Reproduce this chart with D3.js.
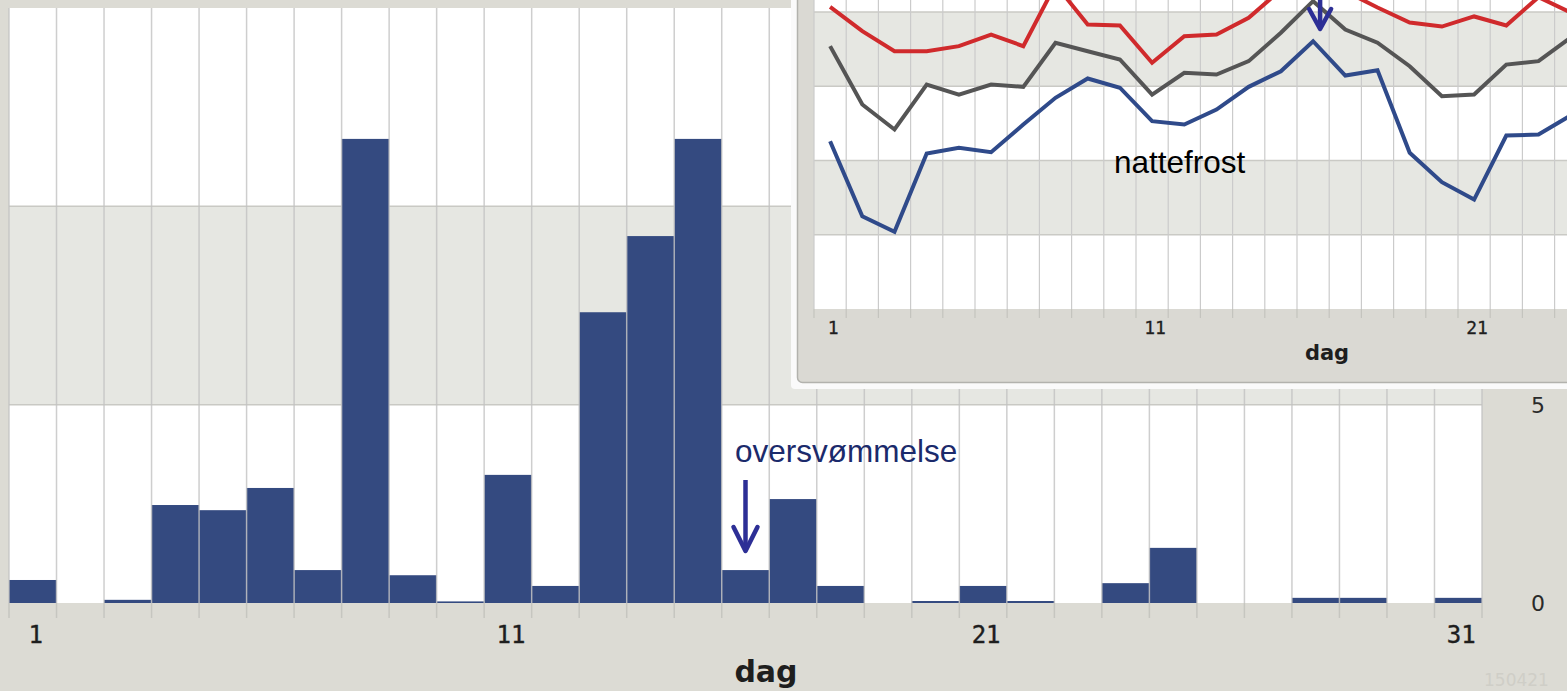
<!DOCTYPE html>
<html>
<head>
<meta charset="utf-8">
<script src="https://cdn.jsdelivr.net/npm/d3@7"></script>
<style>
  html, body { margin: 0; padding: 0; background: #dcdbd4; overflow: hidden; }
  svg { display: block; }
</style>
</head>
<body>
<script>
// ---------- DATA ----------
const days = d3.range(1, 32);                       // 1..31
const precipitation = [0.58, 0, 0.08, 2.47, 2.34, 2.9, 0.83, 11.7, 0.7, 0.04,
                       3.23, 0.43, 7.33, 9.25, 11.7, 0.83, 2.62, 0.43, 0, 0.05,
                       0.43, 0.05, 0, 0.5, 1.39, 0, 0, 0.13, 0.13, 0, 0.13];
const mainXTicks = [1, 11, 21, 31];
const mainYTicks = [0, 5];          // 10 and 15 lie behind the inset

// inset temperature lines (days 1..24 visible)
const insetDays = d3.range(1, 25);
const tempMax  = [10.35, 8.71, 7.36, 7.36, 7.70, 8.48, 7.70, 11.85, 9.16, 9.09,
                  6.58, 8.37, 8.48, 9.61, 11.5, 12.2, 11.4, 10.3, 9.29, 9.02,
                  9.70, 9.09, 11.0, 9.97];
const tempMean = [7.70, 3.77, 2.09, 5.12, 4.44, 5.12, 4.96, 7.93, 7.36, 6.80,
                  4.44, 5.91, 5.79, 6.69, 8.60, 10.73, 8.82, 7.93, 6.35, 4.33,
                  4.44, 6.46, 6.69, 8.28];
const tempMin  = [1.30, -3.75, -4.80, 0.47, 0.86, 0.56, 2.42, 4.22, 5.52, 4.90,
                  2.65, 2.42, 3.43, 4.96, 6.01, 8.03, 5.72, 6.08, 0.52, -1.46,
                  -2.63, 1.68, 1.75, 3.03];
const insetXTicks = [1, 11, 21];
const insetBands = [[-10, -5], [-5, 0], [0, 5], [5, 10], [10, 15]];
const mainBands = [[0, 5], [5, 10], [10, 15]];

// ---------- SETUP ----------
const W = 1567, H = 691;
const svg = d3.select("body").append("svg").attr("width", W).attr("height", H);
svg.append("rect").attr("width", W).attr("height", H).attr("fill", "#dcdbd4");

const monoFont = "'DejaVu Sans Mono', monospace";
const sansFont = "'DejaVu Sans', sans-serif";
const arialFont = "'Liberation Sans', Arial, sans-serif";

// ---------- MAIN CHART ----------
const x = d3.scaleBand().domain(days).range([9, 1482]).padding(0);
const y = d3.scaleLinear().domain([0, 15]).range([603, 8]);
const main = svg.append("g");

main.selectAll("rect.band").data(mainBands).join("rect")
  .attr("x", x.range()[0]).attr("width", x.range()[1] - x.range()[0])
  .attr("y", d => y(d[1])).attr("height", d => y(d[0]) - y(d[1]))
  .attr("fill", (d, i) => i % 2 === 1 ? "#e6e7e2" : "#ffffff");

main.selectAll("line.hgrid").data([5, 10]).join("line")
  .attr("x1", x.range()[0]).attr("x2", x.range()[1])
  .attr("y1", d => y(d)).attr("y2", d => y(d))
  .attr("stroke", "#c9c9c4").attr("stroke-width", 1.5);

main.selectAll("rect.bar").data(days).join("rect")
  .attr("x", d => x(d)).attr("width", x.bandwidth())
  .attr("y", d => y(precipitation[d - 1]))
  .attr("height", d => y(0) - y(precipitation[d - 1]))
  .attr("fill", "#344a80");

const bounds = days.map(d => x(d)).concat([x.range()[1]]);
main.selectAll("line.vgrid").data(bounds).join("line")
  .attr("x1", d => d).attr("x2", d => d)
  .attr("y1", y(15)).attr("y2", y(0))
  .attr("stroke", "#c2c2c2").attr("stroke-opacity", 0.8).attr("stroke-width", 1.5);
main.selectAll("line.tick").data(bounds).join("line")
  .attr("x1", d => d).attr("x2", d => d)
  .attr("y1", y(0)).attr("y2", y(0) + 15)
  .attr("stroke", "#c6c6c0").attr("stroke-width", 1.5);

main.selectAll("text.xl").data(mainXTicks).join("text")
  .attr("x", d => x(d) + x.bandwidth() / 2 + 3).attr("y", 643)
  .attr("text-anchor", "middle").attr("font-family", monoFont)
  .attr("font-size", 24).attr("fill", "#1e1e1e").attr("stroke", "#1e1e1e")
  .attr("stroke-width", 0.4).text(d => d);

main.selectAll("text.yl").data(mainYTicks).join("text")
  .attr("x", 1538).attr("y", d => y(d) + 8)
  .attr("text-anchor", "middle").attr("font-family", sansFont)
  .attr("font-size", 22).attr("fill", "#2a2a2a").text(d => d);

main.append("text").attr("x", 766).attr("y", 682)
  .attr("text-anchor", "middle").attr("font-family", sansFont)
  .attr("font-weight", "bold").attr("font-size", 30).attr("fill", "#1e1e1e").text("dag");

// annotation: oversvømmelse
const ax = x(16) + x.bandwidth() / 2;
main.append("text").attr("x", 735).attr("y", 462)
  .attr("font-family", arialFont).attr("font-size", 31.5)
  .attr("fill", "#1b2a6b").text("oversvømmelse");
const arrowColor = "#2d2f96";
main.append("line").attr("x1", ax).attr("x2", ax).attr("y1", 480).attr("y2", 549)
  .attr("stroke", arrowColor).attr("stroke-width", 4.5);
main.append("path")
  .attr("d", `M${ax - 12},${527} L${ax},${551} L${ax + 12},${527}`)
  .attr("fill", "none").attr("stroke", arrowColor).attr("stroke-width", 4.5)
  .attr("stroke-linecap", "round").attr("stroke-linejoin", "round");

// faint watermark
svg.append("text").attr("x", 1484).attr("y", 686)
  .attr("font-family", sansFont).attr("font-size", 17)
  .attr("fill", "#cfcec7").text("150421");

// ---------- INSET ----------
const inset = svg.append("g");
inset.append("rect").attr("x", 791).attr("y", -20).attr("width", 820).attr("height", 409)
  .attr("rx", 4).attr("fill", "#fafafa");
inset.append("rect").attr("x", 797.5).attr("y", -20).attr("width", 810).attr("height", 402.5)
  .attr("rx", 5).attr("fill", "#dad9d3").attr("stroke", "#b2b2ad").attr("stroke-width", 1.5);

const xi = d3.scaleBand().domain(days).range([814, 814 + 31 * 32.2]).padding(0);
const yi = d3.scaleLinear().domain([-10, 15]).range([309, -62.25]);

inset.selectAll("rect.band").data(insetBands).join("rect")
  .attr("x", xi.range()[0]).attr("width", xi.range()[1] - xi.range()[0])
  .attr("y", d => yi(d[1])).attr("height", d => yi(d[0]) - yi(d[1]))
  .attr("fill", (d, i) => i % 2 === 1 ? "#e6e7e2" : "#ffffff");
inset.selectAll("line.hgrid").data([-5, 0, 5, 10]).join("line")
  .attr("x1", xi.range()[0]).attr("x2", xi.range()[1])
  .attr("y1", d => yi(d)).attr("y2", d => yi(d))
  .attr("stroke", "#cacac5").attr("stroke-width", 1.5);
const ibounds = days.map(d => xi(d)).concat([xi.range()[1]]);
inset.selectAll("line.vgrid").data(ibounds).join("line")
  .attr("x1", d => d).attr("x2", d => d)
  .attr("y1", yi(15)).attr("y2", yi(-10))
  .attr("stroke", "#cbcbcb").attr("stroke-width", 1.2);
inset.selectAll("line.tick").data(ibounds).join("line")
  .attr("x1", d => d).attr("x2", d => d)
  .attr("y1", yi(-10)).attr("y2", yi(-10) + 9)
  .attr("stroke", "#c4c4be").attr("stroke-width", 1.2);

const line = d3.line().x((v, i) => xi(insetDays[i]) + xi.bandwidth() / 2).y(v => yi(v));
const series = [
  { values: tempMax, color: "#d02a2c" },
  { values: tempMean, color: "#555555" },
  { values: tempMin, color: "#2f4a8a" }
];
inset.selectAll("path.series").data(series).join("path")
  .attr("d", d => line(d.values)).attr("fill", "none")
  .attr("stroke", d => d.color).attr("stroke-width", 4)
  .attr("stroke-linejoin", "miter");

inset.selectAll("text.xl").data(insetXTicks).join("text")
  .attr("x", d => xi(d) + xi.bandwidth() / 2 + 3).attr("y", 334)
  .attr("text-anchor", "middle").attr("font-family", monoFont)
  .attr("font-size", 18).attr("fill", "#1e1e1e").attr("stroke", "#1e1e1e")
  .attr("stroke-width", 0.3).text(d => d);
inset.append("text").attr("x", 1327).attr("y", 360)
  .attr("text-anchor", "middle").attr("font-family", sansFont)
  .attr("font-weight", "bold").attr("font-size", 21).attr("fill", "#1e1e1e").text("dag");

inset.append("text").attr("x", 1114).attr("y", 173)
  .attr("font-family", arialFont).attr("font-size", 31.5)
  .attr("fill", "#000").text("nattefrost");

const iax = xi(16) + xi.bandwidth() / 2 + 7;
inset.append("line").attr("x1", iax).attr("x2", iax).attr("y1", -5).attr("y2", 27)
  .attr("stroke", arrowColor).attr("stroke-width", 4.5);
inset.append("path")
  .attr("d", `M${iax - 11},${9} L${iax},${29} L${iax + 11},${9}`)
  .attr("fill", "none").attr("stroke", arrowColor).attr("stroke-width", 4.5)
  .attr("stroke-linecap", "round").attr("stroke-linejoin", "round");
</script>
</body>
</html>
